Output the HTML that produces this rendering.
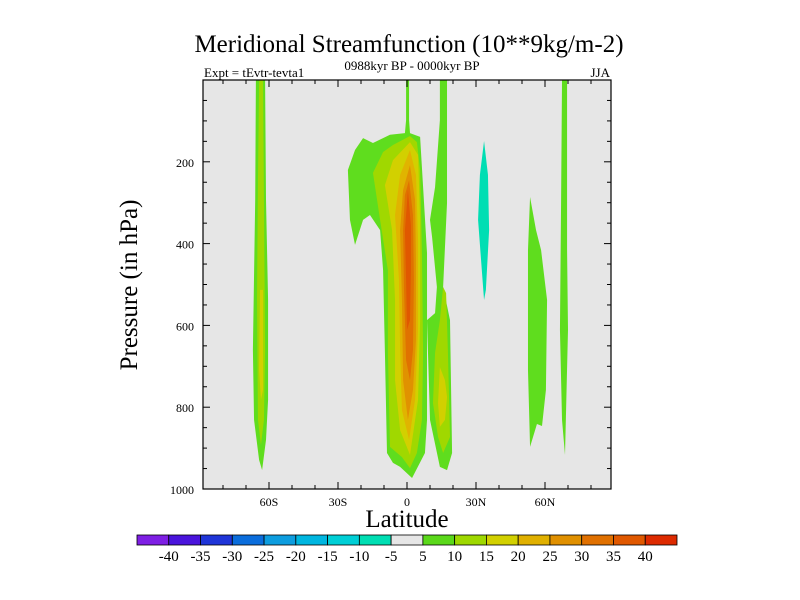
<!DOCTYPE html>
<html><head><meta charset="utf-8"><style>
body{margin:0;background:#fff;}
svg{display:block;font-family:"Liberation Serif",serif;}
</style></head><body>
<svg id="c" width="800" height="600"></svg>
<script>
const levels=[5,10,15,20,25,30,35];
const levelColors=["#5fdd1e","#a0d800","#d2d000","#e0b400","#e09200","#e07200","#e05800"];
const negPolys=[[[33.5,149],[35.2,232],[35.7,367],[34.3,513],[33.5,538],[32.2,440],[30.9,342],[31.7,232]]];
const polys5=[
[[-65.7,0],[-61.7,0],[-61.3,293],[-60.4,538],[-60.4,782],[-61.3,880],[-63,954],[-64.3,929],[-66.5,831],[-67,660],[-66,293]],
[[-0.4,0],[0.9,0],[0.9,98],[1.3,130],[5.7,139],[7,262],[8.7,423],[8.7,667],[8.7,831],[7.8,912],[2.2,973],[-3,946],[-6.1,936],[-8.7,912],[-9.6,667],[-10.4,465],[-11.7,367],[-16.1,330],[-19.1,342],[-22.6,403],[-24.8,342],[-25.7,220],[-22.6,171],[-19.1,142],[-14.8,154],[-7.4,134],[-0.9,130],[-0.4,98]],
[[14.3,0],[17.4,0],[17.4,301],[15.7,506],[18.7,587],[19.6,912],[17.4,954],[14.3,946],[10,831],[8.7,587],[12.2,570],[13,506],[10.9,384],[10,342],[12.2,262],[14.3,98]],
[[53.5,286],[56.1,367],[58.3,416],[60.9,538],[60.4,758],[58.7,846],[56.5,841],[53.5,897],[52.6,709],[52.6,416]],
[[67.4,0],[69.6,0],[69.6,416],[70,611],[68.7,917],[67.4,831],[66.5,611],[67,293]]];
const polys10=[
[[-64.3,0],[-62.6,0],[-62.2,293],[-61.7,660],[-62.2,831],[-63.5,892],[-64.8,831],[-65.2,538],[-64.8,245]],
[[1.3,137],[4.3,152],[5.7,220],[6.5,423],[7,667],[6.5,831],[4.3,912],[1.3,949],[-2.2,922],[-7.4,897],[-8.3,667],[-8.3,465],[-11.7,342],[-14.8,227],[-10.4,176],[-6.1,159]],
[[15.7,506],[17,521],[17.8,667],[18.7,873],[15.7,912],[13.5,873],[11.3,790],[12.2,667],[14.3,587]]];
const polys15=[
[[-63.9,513],[-62.6,513],[-62.6,758],[-63.5,782],[-64.3,709]],
[[1.3,152],[4.8,183],[5.7,342],[5.7,587],[4.8,782],[1.3,917],[-3,856],[-5.2,734],[-5.2,538],[-6.5,367],[-9.6,257],[-6.1,196]],
[[14.3,702],[16.5,734],[17.4,775],[16.5,831],[14.3,848],[13.5,790]]];
const polys20=[[[1.3,171],[3.9,232],[4.8,391],[4.8,611],[3.5,782],[0.9,880],[-2.2,807],[-3,660],[-3.5,489],[-5.2,330],[-3,232]]];
const polys25=[[[1.3,208],[3.5,293],[3.9,440],[3.9,636],[2.6,758],[0.4,831],[-1.7,734],[-2.2,538],[-3,367],[-1.7,269]]];
const polys30=[[[0.9,245],[2.6,330],[3,489],[2.6,660],[1.3,734],[-0.4,685],[-1.3,513],[-1.7,367],[-0.9,281]]];
const polys35=[[[0.4,269],[1.7,355],[1.7,465],[1.3,587],[0,611],[-0.4,489],[-0.9,367]]];
const xTickVals=[-60,-30,0,30,60];
const xTickLabels=["60S","30S","0","30N","60N"];
const yTickVals=[200,400,600,800,1000];
const cbLabels=["-40","-35","-30","-25","-20","-15","-10","-5","5","10","15","20","25","30","35","40"];
const cbColors=["#7e1fe4","#4a14dc","#1f35d8","#0a6ddc","#0d9ddf","#00b6e0","#00cfd6","#00deb3","#e6e6e6","#5ad81a","#9ed800","#d2d000","#e0b000","#e09000","#e07000","#e05800","#dd2a00"];

const L=203,R=611,T=80,B=489;
const X=v=>407+v*2.3;
const Y=p=>T+p*(B-T)/1000;
const NS="http://www.w3.org/2000/svg";
const svg=document.getElementById('c');
function mk(t,a,p){const e=document.createElementNS(NS,t);for(const k in a)e.setAttribute(k,a[k]);(p||svg).appendChild(e);return e;}
function txt(s,a,p){const e=mk('text',a,p);e.textContent=s;return e;}

let bg=mk('rect',{x:L,y:T,width:R-L,height:B-T,fill:'#e6e6e6'});


const clip=mk('clipPath',{id:'cp'});mk('rect',{x:L,y:T,width:R-L,height:B-T},clip);
const g=mk('g',{'clip-path':'url(#cp)'});


function drawPolys(list,color,name){
  list.forEach(pl=>{
    const pg=mk('polygon',{points:pl.map(q=>X(q[0])+','+Y(q[1])).join(' '),fill:color},g);
    
    
  });
}
drawPolys(negPolys,"#00deb3","contour-neg5");
[polys5,polys10,polys15,polys20,polys25,polys30,polys35].forEach((pl,i)=>drawPolys(pl,levelColors[i],'contour-'+levels[i]));

const frame=mk('rect',{x:L,y:T,width:R-L,height:B-T,fill:'none',stroke:'#000','stroke-width':1.2});


// ticks
for(let v=-80;v<=80;v+=10){
  const len=(v%30===0)?7:4;const x=X(v);
  mk('line',{x1:x,y1:B,x2:x,y2:B-len,stroke:'#000'});
  mk('line',{x1:x,y1:T,x2:x,y2:T+len,stroke:'#000'});
}
for(let p=50;p<1000;p+=50){
  const len=(p%200===0)?7:4;const y=Y(p);
  mk('line',{x1:L,y1:y,x2:L+len,y2:y,stroke:'#000'});
  mk('line',{x1:R,y1:y,x2:R-len,y2:y,stroke:'#000'});
}
xTickVals.forEach((v,i)=>{
  const t=txt(xTickLabels[i],{x:X(v),y:B+17,'text-anchor':'middle','font-size':12});
  
  
});
yTickVals.forEach(v=>{
  const t=txt(String(v),{x:L-9,y:Y(v)+5,'text-anchor':'end','font-size':12});
  
  
});
let e;
e=txt('Meridional Streamfunction (10**9kg/m-2)',{x:409,y:52,'text-anchor':'middle','font-size':25});

e=txt('0988kyr BP - 0000kyr BP',{x:412,y:70,'text-anchor':'middle','font-size':13});

e=txt('Expt = tEvtr-tevta1',{x:204,y:77,'font-size':13});

e=txt('JJA',{x:610,y:77,'text-anchor':'end','font-size':13});

e=txt('Latitude',{x:407,y:527,'text-anchor':'middle','font-size':25});

e=txt('Pressure (in hPa)',{x:0,y:0,'text-anchor':'middle','font-size':25,transform:'translate(137,285) rotate(-90)'});

// colorbar
const cb=mk('g',{});


const cw=540/cbColors.length;
cbColors.forEach((c,i)=>{
  const r=mk('rect',{x:137+i*cw,y:535,width:cw,height:10,fill:c,stroke:'#000','stroke-width':0.8},cb);
  
  
});
cbLabels.forEach((s,i)=>{
  const t=txt(s,{x:137+(i+1)*cw,y:561,'text-anchor':'middle','font-size':15},cb);
  
  
});
</script>
</body></html>
